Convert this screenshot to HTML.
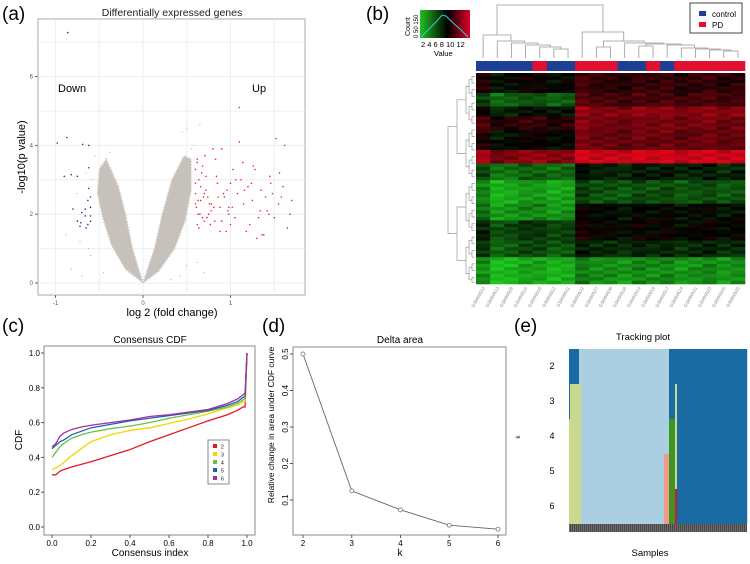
<!DOCTYPE html>
<html><head><meta charset="utf-8"><style>
body{margin:0;background:#fff;width:750px;height:559px;overflow:hidden}
svg{font-family:"Liberation Sans",sans-serif}
</style></head><body>
<svg id="fig" width="750" height="559" viewBox="0 0 750 559" xmlns="http://www.w3.org/2000/svg">
<defs>
<linearGradient id="keyg" x1="0" x2="1" y1="0" y2="0">
<stop offset="0" stop-color="#22c022"/><stop offset="0.55" stop-color="#000"/><stop offset="1" stop-color="#e0002a"/>
</linearGradient>
</defs>
<text x="2" y="20" font-size="19">(a)</text>
<text x="366" y="20" font-size="19">(b)</text>
<text x="2" y="332" font-size="19">(c)</text>
<text x="262" y="332" font-size="19">(d)</text>
<text x="514" y="332" font-size="19">(e)</text>

<g id="pa">
<text x="172" y="16" font-size="10.5" text-anchor="middle" fill="#222">Differentially expressed genes</text>
<rect x="38" y="19" width="267" height="276" fill="#fff" stroke="#aaa"/>
<g id="pagrid"></g>
<g id="pacloud"></g>
<g id="papts"></g>
<text x="58" y="92" font-size="11">Down</text>
<text x="252" y="92" font-size="11">Up</text>
<text transform="translate(25,157) rotate(-90)" font-size="11" text-anchor="middle">-log10(p value)</text>
<text x="172" y="316" font-size="11" text-anchor="middle">log 2 (fold change)</text>
</g>

<g id="pb">
<rect x="420" y="10" width="50" height="28" fill="url(#keyg)"/>
<polyline points="421,37 428,30 436,22 442,15 446,16 452,22 460,29 468,37" fill="none" stroke="#3cc" stroke-width="1"/>
<text transform="translate(410,36) rotate(-90)" font-size="7">Count</text>
<text transform="translate(418,38) rotate(-90)" font-size="6">0 50 150</text>
<text x="421" y="47" font-size="7.5">2 4 6 8 10 12</text>
<text x="434" y="56" font-size="7.5">Value</text>
<rect x="690" y="3" width="52" height="30" fill="#fff" stroke="#444"/>
<rect x="699" y="11" width="7" height="5" fill="#1f3f95"/>
<text x="712" y="17" font-size="8">control</text>
<rect x="699" y="22" width="7" height="5" fill="#e0102e"/>
<text x="712" y="28" font-size="8">PD</text>
<g id="pbcd"></g><g id="pbrd"></g><g id="pbbar"></g><g id="pbhm"></g><g id="pblab"></g>
</g>

<g id="pc">
<text x="150" y="343" font-size="10" text-anchor="middle">Consensus CDF</text>
<rect x="44" y="346" width="211" height="189" fill="#fff" stroke="#888"/>
<g id="pcax"></g><g id="pclines"></g>
<text transform="translate(22,440) rotate(-90)" font-size="10" text-anchor="middle">CDF</text>
<text x="150" y="556" font-size="10" text-anchor="middle">Consensus index</text>
<rect x="208" y="440" width="21" height="44" fill="#fff" stroke="#888"/>
<g id="pcleg"></g>
</g>

<g id="pd">
<text x="400" y="343" font-size="10" text-anchor="middle">Delta area</text>
<rect x="293" y="347" width="213" height="188" fill="#fff" stroke="#888"/>
<g id="pdax"></g><g id="pdline"></g>
<text transform="translate(274,425) rotate(-90)" font-size="8.5" text-anchor="middle">Relative change in area under CDF curve</text>
<text x="400" y="556" font-size="10" text-anchor="middle">k</text>
</g>

<g id="pe">
<text x="643" y="340" font-size="9.5" text-anchor="middle">Tracking plot</text>
<g id="petr"></g>
<text transform="translate(520,437) rotate(-90)" font-size="6" text-anchor="middle">k</text>
<text x="650" y="556" font-size="9.5" text-anchor="middle">Samples</text>
</g>
</svg>
<script>
const volXTicks=[-1,0,1];
const volYTicks=[0,2,4,6];
const cloudLeft=[[0,0],[-0.12,1.0],[-0.2,2.0],[-0.28,2.8],[-0.42,3.6],[-0.5,3.3],[-0.52,2.6],[-0.46,1.9],[-0.36,1.1],[-0.2,0.4]];
const cloudRight=[[0,0],[0.13,1.0],[0.22,2.0],[0.33,3.0],[0.47,3.7],[0.55,3.6],[0.55,2.7],[0.48,1.8],[0.36,1.0],[0.18,0.35]];
const greyX=[-0.72,-0.6,-0.55,-0.48,-0.65,-0.5,-0.45,-0.82,-0.7,0.45,0.5,0.55,0.62,0.7,-0.58,-0.38,0.42,0.32,-0.88,-0.76,0.65,0.58,-0.62,0.5];
const greyY=[1.2,0.8,3.7,3.4,3.2,2.8,0.3,0.4,0.2,4.4,4.5,3.9,0.6,0.3,3.0,3.8,0.2,0.1,1.4,2.6,4.6,4.0,1.0,0.5];
const blueX=[-0.86,-0.98,-0.87,-0.9,-0.82,-0.75,-0.69,-0.62,-0.62,-0.62,-0.6,-0.63,-0.6,-0.66,-0.8,-0.7,-0.66,-0.6,-0.75,-0.71,-0.63,-0.65,-0.72,-0.6];
const blueY=[7.28,4.07,4.23,3.1,3.15,3.1,4.03,4.0,3.35,2.75,2.5,2.4,2.2,2.15,2.15,2.05,1.95,1.95,1.8,1.75,1.7,1.6,1.65,1.8];
const redX=[0.62,0.6,0.64,0.66,0.6,0.63,0.61,0.65,0.68,0.7,0.72,0.6,0.62,0.67,0.74,0.76,0.78,0.8,0.62,0.64,0.66,0.7,0.72,0.6,0.63,0.68,0.71,0.75,0.82,0.85,0.88,0.9,0.93,0.95,0.98,1.0,1.03,1.05,1.08,1.1,1.12,1.15,1.18,1.2,1.22,1.25,1.28,1.3,1.32,1.35,1.38,1.4,1.42,1.45,1.48,1.5,1.52,1.55,1.58,1.6,1.62,1.65,1.68,1.7,0.86,0.9,0.96,1.02,1.06,1.14,1.24,1.34,1.44,0.78,0.84,0.92,1.0,0.88,0.97,1.16,1.26,1.36,1.46,1.56,0.73,0.81,0.69,0.77,0.83,1.1,0.98];
const redY=[3.6,3.3,3.0,2.8,2.6,2.4,2.2,2.0,1.9,1.8,2.7,2.9,3.5,3.2,2.5,2.3,2.1,3.9,1.7,1.6,2.4,2.6,3.1,2.3,2.0,3.4,3.7,2.0,1.8,2.9,2.2,3.9,2.5,1.5,2.0,2.9,3.3,1.9,2.6,4.1,3.0,2.3,1.5,2.8,1.7,2.4,3.3,1.3,1.9,2.7,1.4,2.5,2.1,3.1,2.6,1.9,4.2,2.3,2.5,2.8,4.0,1.6,2.0,2.4,2.5,1.8,2.7,2.2,3.0,3.5,2.9,2.1,2.0,2.3,3.1,2.6,1.7,1.5,2.1,2.7,3.4,1.4,2.9,3.2,1.9,2.2,2.5,1.7,3.6,5.1,2.2];
const sampleGroups=['c','c','c','c','p','c','c','p','p','p','c','c','p','c','p','p','p','p','p'];
const sampleNames=['GSM99510','GSM99513','GSM99509','GSM99515','GSM99518','GSM99512','GSM99511','GSM99522','GSM99527','GSM99526','GSM99516','GSM99514','GSM99519','GSM99517','GSM99524','GSM99521','GSM99523','GSM99525','GSM99520'];
const bandRows=[6,4,3,4,6,4,5,7,5,6,5,8];
const bandLeft=[0.0,-0.45,-0.1,0.2,0.0,0.6,-0.5,-0.8,-0.7,-0.3,-0.4,-0.85];
const bandRight=[0.2,0.3,0.6,0.5,0.45,0.9,-0.15,-0.4,-0.05,0.0,-0.2,-0.7];
const colOffset=[0.15,-0.1,-0.05,0.05,0.05,-0.05,0.0,0.1,0.0,0.0,-0.05,0.05,0.0,0.05,-0.05,0.0,0.05,-0.05,0.0];
const rowJitter=[0.05,-0.1,0.08,-0.04,0.12,-0.08,0.02,-0.12,0.1,-0.02,0.06,-0.06,0.0];
const cdfX=[0,0.02,0.04,0.06,0.1,0.15,0.2,0.3,0.4,0.5,0.6,0.7,0.8,0.9,0.95,0.98,0.99,1.0];
const cdfK2=[0.30,0.30,0.32,0.33,0.345,0.36,0.375,0.41,0.445,0.49,0.53,0.57,0.61,0.645,0.67,0.69,0.69,1.0];
const cdfK3=[0.33,0.34,0.355,0.37,0.41,0.45,0.49,0.53,0.555,0.57,0.595,0.62,0.65,0.685,0.70,0.72,0.72,1.0];
const cdfK4=[0.40,0.43,0.46,0.48,0.51,0.53,0.545,0.565,0.58,0.60,0.625,0.645,0.665,0.69,0.71,0.73,0.74,1.0];
const cdfK5=[0.45,0.47,0.49,0.50,0.53,0.55,0.57,0.59,0.61,0.625,0.64,0.655,0.67,0.70,0.72,0.745,0.75,1.0];
const cdfK6=[0.46,0.48,0.52,0.54,0.56,0.575,0.585,0.60,0.615,0.635,0.645,0.66,0.675,0.71,0.735,0.76,0.77,1.0];
const cdfTicks=[0,0.2,0.4,0.6,0.8,1.0];
const deltaK=[2,3,4,5,6];
const deltaVal=[0.5,0.125,0.073,0.031,0.02];
const deltaTicks=[0.1,0.2,0.3,0.4,0.5];
const trackK=[2,3,4,5,6];
const trackSegs=[
 [[0,10,'#1a6aa3'],[10,100,'#a9cfe0'],[100,178,'#1a6aa3']],
 [[0,1,'#1a6aa3'],[1,12,'#c9d98e'],[12,100,'#a9cfe0'],[100,106,'#1a6aa3'],[106,108,'#c9d98e'],[108,178,'#1a6aa3']],
 [[0,12,'#c9d98e'],[12,100,'#a9cfe0'],[100,106,'#3e9325'],[106,108,'#c9d98e'],[108,178,'#1a6aa3']],
 [[0,12,'#c9d98e'],[12,95,'#a9cfe0'],[95,100,'#f39a8c'],[100,106,'#3e9325'],[106,108,'#c9d98e'],[108,178,'#1a6aa3']],
 [[0,12,'#c9d98e'],[12,95,'#a9cfe0'],[95,100,'#f39a8c'],[100,106,'#3e9325'],[106,108,'#c81e2a'],[108,178,'#1a6aa3']]];

const NS="http://www.w3.org/2000/svg";
function mk(parent,tag,attrs){const e=document.createElementNS(NS,tag);for(const k in attrs)e.setAttribute(k,attrs[k]);parent.appendChild(e);return e;}
function vx(v){return 143+v*87.5;}
function vy(v){return 283-v*34.4;}

const gGrid=document.getElementById('pagrid');
[-1,-0.5,0,0.5,1,1.5].forEach(v=>{const l=mk(gGrid,'line',{x1:vx(v),x2:vx(v),y1:19,y2:295,stroke:'#eee'});

});
[0,1,2,3,4,5,6,7].forEach(v=>{const l=mk(gGrid,'line',{x1:38,x2:305,y1:vy(v),y2:vy(v),stroke:'#eee'});

});
volXTicks.forEach(v=>{mk(gGrid,'line',{x1:vx(v),x2:vx(v),y1:295,y2:298,stroke:'#666'});
const t=mk(gGrid,'text',{x:vx(v),y:305,'font-size':6,'text-anchor':'middle',fill:'#555'});t.textContent=v;

});
volYTicks.forEach(v=>{mk(gGrid,'line',{x1:35,x2:38,y1:vy(v),y2:vy(v),stroke:'#666'});
const t=mk(gGrid,'text',{x:33,y:vy(v)+2,'font-size':6,'text-anchor':'end',fill:'#555'});t.textContent=v;

});
const gCloud=document.getElementById('pacloud');
[cloudLeft,cloudRight].forEach((arr,i)=>{const p=mk(gCloud,'polygon',{points:arr.map(q=>vx(q[0])+','+vy(q[1])).join(' '),fill:'#c7c1bc',stroke:'#d2cdc9','stroke-width':2,'stroke-dasharray':'1 2'});

});
const gPts=document.getElementById('papts');
greyX.forEach((x,i)=>{const c=mk(gPts,'circle',{cx:vx(x),cy:vy(greyY[i]),r:0.7,fill:'#c7c1bc'});

});
blueX.forEach((x,i)=>{const c=mk(gPts,'circle',{cx:vx(x),cy:vy(blueY[i]),r:0.8,fill:'#2a2a9a'});

});
redX.forEach((x,i)=>{const c=mk(gPts,'circle',{cx:vx(x),cy:vy(redY[i]),r:0.8,fill:'#f0203a'});

});

const HX=476,HY=73,HW=269,HH=211,NC=19;
const cellW=HW/NC;
function hcol(v){v=Math.max(-1,Math.min(1,v));if(v<0){const g=Math.round(-v*200);return 'rgb('+Math.round(-v*30)+','+g+','+Math.round(-v*30)+')';}const r=Math.round(v*225);return 'rgb('+r+','+Math.round(v*5)+','+Math.round(v*25)+')';}
const gHm=document.getElementById('pbhm');
const totalRows=bandRows.reduce((a,b)=>a+b,0);
const rowH=HH/totalRows;
let ri=0;
bandRows.forEach((n,b)=>{for(let k=0;k<n;k++){for(let c=0;c<NC;c++){const base=c<7?bandLeft[b]:bandRight[b];const v=base+colOffset[c]+rowJitter[(ri+c)%rowJitter.length];
const r=mk(gHm,'rect',{x:HX+c*cellW,y:HY+ri*rowH,width:cellW+0.3,height:rowH+0.3,fill:hcol(v)});

}ri++;}});
const gBar=document.getElementById('pbbar');
sampleGroups.forEach((g,c)=>{const r=mk(gBar,'rect',{x:HX+c*cellW,y:61,width:cellW+0.3,height:10,fill:g==='c'?'#1f3f95':'#e0102e'});

});
const gLab=document.getElementById('pblab');
sampleNames.forEach((s,c)=>{const x=HX+(c+0.5)*cellW;const t=mk(gLab,'text',{transform:'translate('+(x+2)+',288) rotate(-60)','font-size':4.5,'text-anchor':'end',fill:'#888'});t.textContent=s;

});
const gCd=document.getElementById('pbcd');
function leafX(i){return HX+(i+0.5)*cellW;}
function drawTree(node){if(typeof node==='number')return{x:leafX(node),y:58};const a=drawTree(node[0]),b=drawTree(node[1]),h=node[2];
const p=mk(gCd,'path',{d:'M'+a.x+','+a.y+'V'+h+'H'+b.x+'V'+b.y,fill:'none',stroke:'#999','stroke-width':0.8});


return{x:(a.x+b.x)/2,y:h};}
const treeL=[0,[1,[2,[3,[4,[5,6,49],47],45],43],41],35];
const treeJ=[16,[17,18,51],50];
const treeG=[14,[15,treeJ,49],48];
const treeF=[13,treeG,45];
const treeD=[[11,12,46],treeF,44];
const treeC=[10,treeD,43];
const treeA=[[8,9,47],treeC,41];
const treeR=[7,treeA,32];
drawTree([treeL,treeR,5]);
const gRd=document.getElementById('pbrd');
function rowTree(a,b,depth){const mid=(a+b)/2;if(b-a<2.5||depth>6){return{x:475,y:HY+mid*rowH};}
const m=Math.round(mid);const t=rowTree(a,m,depth+1),u=rowTree(m,b,depth+1);const x=Math.min(t.x,u.x)-3-(depth<2?6:0);
const p=mk(gRd,'path',{d:'M'+t.x+','+t.y+'H'+x+'V'+u.y+'H'+u.x,fill:'none',stroke:'#999','stroke-width':0.7});


return{x:x,y:(t.y+u.y)/2};}
rowTree(0,totalRows,0);

const cdfColors=['#e41a1c','#f2d600','#6abf4b','#2060b0','#a0309a'];
function cdfx(v){return 52+v*195;}
function cdfy(v){return 527-v*174;}
const gCax=document.getElementById('pcax');
cdfTicks.forEach(v=>{mk(gCax,'line',{x1:cdfx(v),x2:cdfx(v),y1:535,y2:538,stroke:'#555'});
const t=mk(gCax,'text',{x:cdfx(v),y:546,'font-size':8,'text-anchor':'middle'});t.textContent=v.toFixed(1);


mk(gCax,'line',{x1:41,x2:44,y1:cdfy(v),y2:cdfy(v),stroke:'#555'});
const u=mk(gCax,'text',{x:40,y:cdfy(v)+3,'font-size':8,'text-anchor':'end'});u.textContent=v.toFixed(1);

});
const gCl=document.getElementById('pclines');
[cdfK2,cdfK3,cdfK4,cdfK5,cdfK6].forEach((s,i)=>{const l=mk(gCl,'polyline',{points:s.map((v,j)=>cdfx(cdfX[j])+','+cdfy(v)).join(' '),fill:'none',stroke:cdfColors[i],'stroke-width':1.3});

});
const gLeg=document.getElementById('pcleg');
cdfColors.forEach((c,i)=>{const r=mk(gLeg,'rect',{x:213,y:444+i*8,width:4,height:4,fill:c});


const t=mk(gLeg,'text',{x:221,y:448.5+i*8,'font-size':5});t.textContent=i+2;

});

function dX(k){return 303+(k-2)*48.75;}
function dY(v){return 354+(0.5-v)*365;}
const gDax=document.getElementById('pdax');
deltaK.forEach(k=>{mk(gDax,'line',{x1:dX(k),x2:dX(k),y1:535,y2:538,stroke:'#555'});
const t=mk(gDax,'text',{x:dX(k),y:546,'font-size':8,'text-anchor':'middle'});t.textContent=k;

});
deltaTicks.forEach(v=>{mk(gDax,'line',{x1:290,x2:293,y1:dY(v),y2:dY(v),stroke:'#555'});
const t=mk(gDax,'text',{transform:'translate(288,'+dY(v)+') rotate(-90)','font-size':8,'text-anchor':'middle'});t.textContent=v;

});
const gDl=document.getElementById('pdline');
const dLine=mk(gDl,'polyline',{points:deltaK.map((k,i)=>dX(k)+','+dY(deltaVal[i])).join(' '),fill:'none',stroke:'#666','stroke-width':0.9});


deltaK.forEach((k,i)=>{const c=mk(gDl,'circle',{cx:dX(k),cy:dY(deltaVal[i]),r:2,fill:'#fff',stroke:'#666','stroke-width':0.7});

});

const TX=569,TY=349,TRH=35,NSAMP=178;
const tW=178/NSAMP;
const gTr=document.getElementById('petr');
trackK.forEach((k,i)=>{trackSegs[i].forEach(s=>{const r=mk(gTr,'rect',{x:TX+s[0]*tW,y:TY+i*TRH,width:(s[1]-s[0])*tW+0.2,height:TRH+0.2,fill:s[2]});

});
const t=mk(gTr,'text',{x:552,y:TY+i*TRH+20,'font-size':9,'text-anchor':'middle'});t.textContent=k;

});
const sBar=mk(gTr,'rect',{x:TX,y:524,width:178,height:8,fill:'#4a4646'});


for(let s=0;s<NSAMP;s+=2){mk(gTr,'line',{x1:TX+s*tW+0.5,x2:TX+s*tW+0.5,y1:524,y2:532,stroke:'#8a8585','stroke-width':0.6});}
</script>
</body></html>
